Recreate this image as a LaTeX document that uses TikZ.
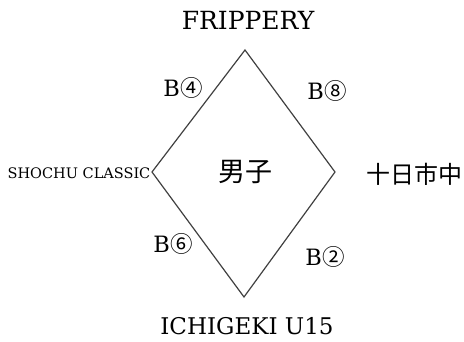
\documentclass[tikz,border=0pt]{standalone}
\usepackage{fontspec}
\setmainfont{DejaVu Serif}
\newfontfamily\cjk{Noto Sans CJK JP}
\usetikzlibrary{positioning}
\definecolor{EdgeGray}{RGB}{64,64,64}

\begin{document}
\begin{tikzpicture}[x=1pt, y=-1pt,
    team/.style={inner sep=0pt, font=\fontsize{23}{23}\selectfont},
    smallteam/.style={inner sep=0pt, font=\fontsize{14.5}{14.5}\selectfont},
    jteam/.style={inner sep=0pt, font=\cjk\fontsize{24}{24}\selectfont},
    game/.style={inner sep=0pt, font=\fontsize{22.5}{22.5}\selectfont},
    side/.style={draw=EdgeGray, line width=1.2pt}
  ]
    \useasboundingbox (0,0) rectangle (464,342);
    % corners of the diamond
    \coordinate (top) at (245,50);
    \coordinate (lft) at (152,172);
    \coordinate (rgt) at (335,172);
    \coordinate (bot) at (244,297);
    \draw[side] (top) -- (rgt) -- (bot) -- (lft) -- cycle;

    \node[team, font=\fontsize{25}{25}\selectfont] (frippery) at (248,20) {FRIPPERY};
    \node[team] (ichigeki) at (247,326) {ICHIGEKI U15};
    \node[smallteam] (shochu) at (79,173) {SHOCHU CLASSIC};
    \node[jteam] (tokaichi) at (414,174) {十日市中};
    \node[jteam, font=\cjk\fontsize{27}{27}\selectfont] (danshi) at (245,172) {男子};

    \node[game] (b4) at (183,88) {B{\cjk ④}};
    \node[game] (b8) at (327,91) {B{\cjk ⑧}};
    \node[game] (b6) at (173,244) {B{\cjk ⑥}};
    \node[game] (b2) at (325,257) {B{\cjk ②}};
\end{tikzpicture}
\end{document}
